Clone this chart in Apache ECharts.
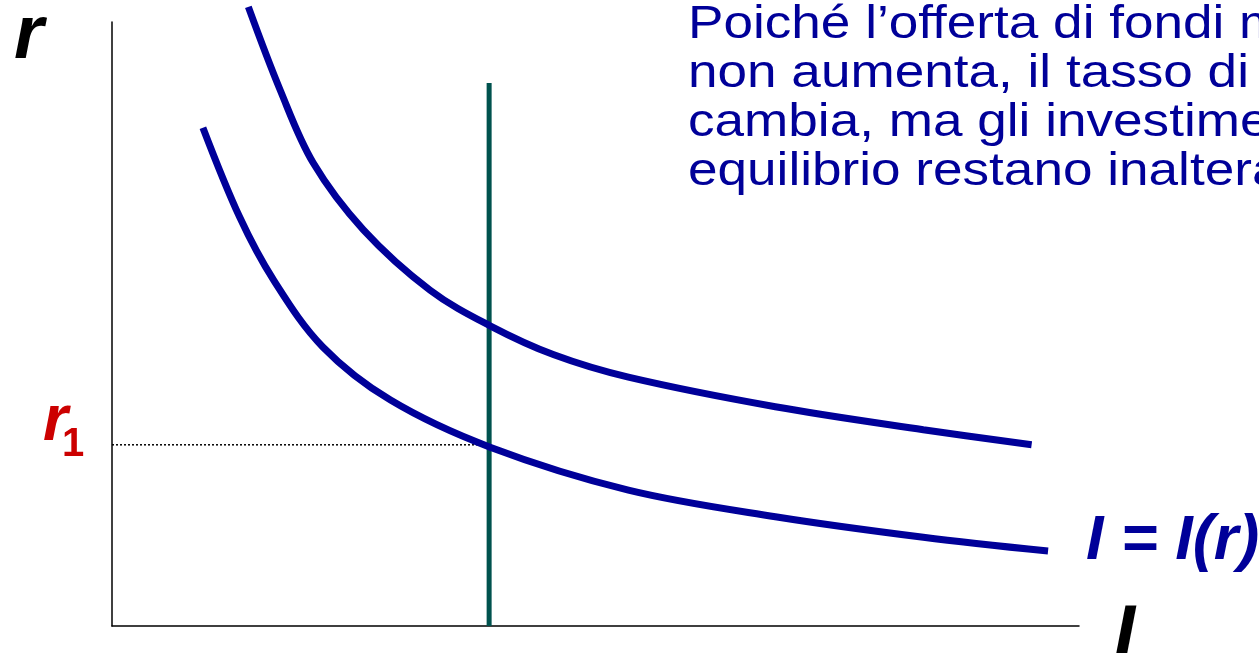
<!DOCTYPE html>
<html>
<head>
<meta charset="utf-8">
<script src="https://cdn.jsdelivr.net/npm/echarts@6/dist/echarts.min.js"></script>
<style>
  html, body { margin: 0; padding: 0; background: #fff; }
  #chart { width: 1259px; height: 653px; }
</style>
</head>
<body>
<div id="chart"></div>
<script>
// investimenti, curva originale I = I(r)
const lowerI = [9.4, 13.2, 16.7, 21.8, 28.8, 39.1, 53.4, 68.6, 83.9, 96.8]
const lowerR = [82.5, 67.7, 57.3, 46.2, 37.4, 29.6, 22.5, 18.1, 14.7, 12.4]
// curva spostata verso l'alto
const upperI = [14.1, 17.4, 20.8, 26.0, 32.9, 39.1, 45.7, 53.4, 68.6, 83.9, 95.1]
const upperR = [102.5, 88.7, 76.7, 65.6, 55.6, 49.7, 44.9, 41.2, 36.3, 32.5, 30.0]
// offerta di fondi (verticale) e tasso r1
const savingsI = 39.0
const savingsTop = 89.9
const r1 = 30.0

const noteLines = [
  'Poiché l’offerta di fondi mutuabili',
  'non aumenta, il tasso di interesse',
  'cambia, ma gli investimenti di',
  'equilibrio restano inalterati.'
]

const FONT = '"Liberation Sans", Arial, sans-serif'
const BLUE = '#000099'

function pairs(xs, ys) {
  return xs.map((x, i) => [x, ys[i]])
}

const chart = echarts.init(document.getElementById('chart'))

const option = {
  animation: false,
  grid: { left: 112, top: 22, right: 180, bottom: 27, containLabel: false },
  xAxis: {
    type: 'value', min: 0, max: 100,
    axisLine: { show: true, lineStyle: { color: '#000', width: 1.5 } },
    axisTick: { show: false }, axisLabel: { show: false }, splitLine: { show: false }
  },
  yAxis: {
    type: 'value', min: 0, max: 100,
    axisLine: { show: true, lineStyle: { color: '#000', width: 1.5 } },
    axisTick: { show: false }, axisLabel: { show: false }, splitLine: { show: false }
  },
  series: [
    {
      type: 'line',
      data: [[0, r1], [savingsI, r1]],
      symbol: 'none',
      lineStyle: { color: '#000', width: 1.5, type: [2, 2] },
      z: 1
    },
    {
      type: 'line',
      data: [[savingsI, 0], [savingsI, savingsTop]],
      symbol: 'none',
      lineStyle: { color: '#00524E', width: 5 },
      z: 2
    },
    {
      type: 'line',
      data: pairs(upperI, upperR),
      smooth: 0.35,
      symbol: 'none',
      clip: false,
      lineStyle: { color: BLUE, width: 7 },
      z: 3
    },
    {
      type: 'line',
      data: pairs(lowerI, lowerR),
      smooth: 0.35,
      symbol: 'none',
      clip: false,
      lineStyle: { color: BLUE, width: 7 },
      z: 3
    }
  ],
  graphic: [
    {
      type: 'text', x: 14, y: 37,
      style: { text: 'r', font: 'italic bold 76px ' + FONT, fill: '#000', verticalAlign: 'middle' }
    },
    {
      type: 'text', x: 1114, y: 637,
      style: { text: 'I', font: 'italic bold 76px ' + FONT, fill: '#000', verticalAlign: 'middle' }
    },
    {
      type: 'text', x: 43, y: 422,
      style: { text: 'r', font: 'italic bold 64px ' + FONT, fill: '#CC0000', verticalAlign: 'middle' }
    },
    {
      type: 'text', x: 62, y: 445,
      style: { text: '1', font: 'bold 40px ' + FONT, fill: '#CC0000', verticalAlign: 'middle' }
    },
    {
      type: 'text', x: 1086, y: 542,
      style: { text: 'I = I(r)', font: 'italic bold 63px ' + FONT, fill: BLUE, verticalAlign: 'middle' }
    },
    {
      type: 'text', x: 688, y: 1, scaleX: 1.13,
      style: {
        text: noteLines.join('\n'),
        font: '47px ' + FONT, fill: BLUE,
        lineHeight: 49, verticalAlign: 'top'
      }
    }
  ]
}

chart.setOption(option)
</script>
</body>
</html>
